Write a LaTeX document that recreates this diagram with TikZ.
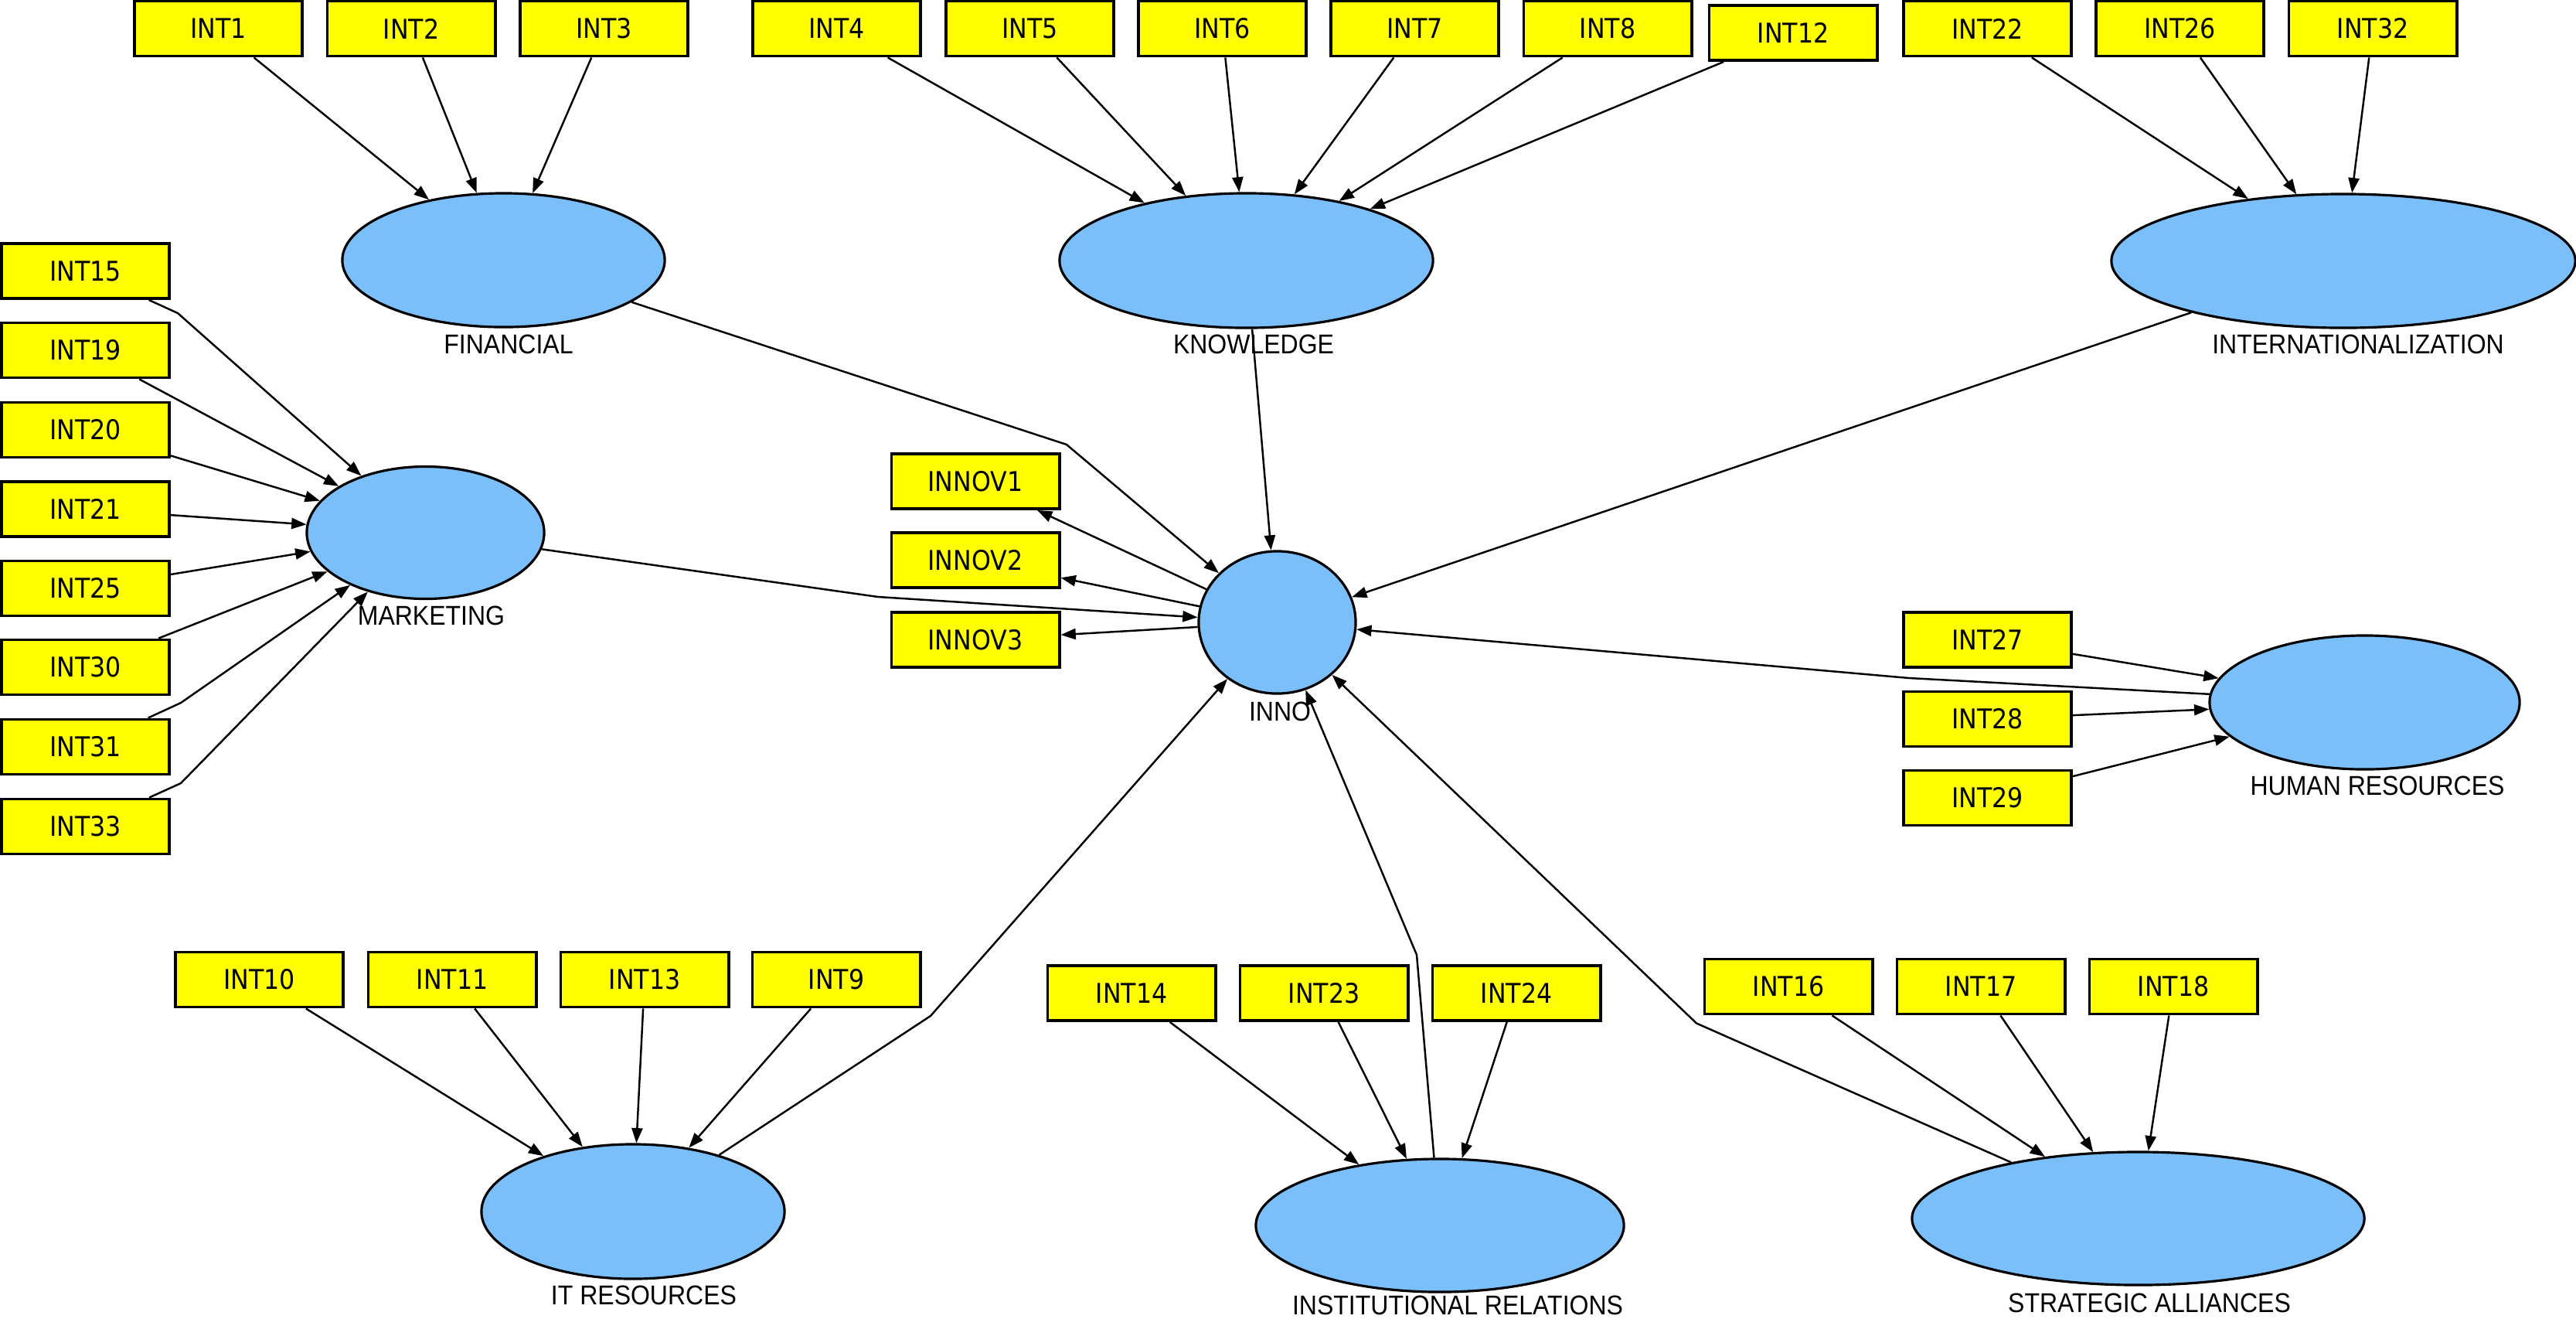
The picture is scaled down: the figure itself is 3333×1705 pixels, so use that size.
\documentclass[tikz,border=0pt]{standalone}
\usepackage{fontspec}
\newfontfamily\boxfont[FakeStretch=0.9]{DejaVu Sans}
\newfontfamily\labfont[FakeStretch=0.91]{Liberation Sans}
\usetikzlibrary{arrows.meta,shapes.geometric}
\definecolor{indyellow}{RGB}{255,255,0}
\definecolor{latblue}{RGB}{122,190,250}
\begin{document}
\begin{tikzpicture}[x=0.01cm,y=-0.01cm,
  ind/.style={draw=black,line width=1.1pt,fill=indyellow,minimum width=2.17cm,minimum height=0.71cm,inner sep=0pt,font=\boxfont\fontsize{10}{12}\selectfont},
  lat/.style={ellipse,draw=black,line width=0.9pt,fill=latblue,inner sep=0pt},
  lab/.style={font=\labfont\fontsize{10}{12}\selectfont,anchor=base,inner sep=0pt},
  arr/.style={line width=0.7pt,-{Triangle[length=5.5pt,width=4pt]}}]
\useasboundingbox[fill=white] (0,0) rectangle (3333,1705);

% latent variables
\node[lat,minimum width=4.17cm,minimum height=1.73cm] (FIN) at (651.5,336.5) {};
\node[lat,minimum width=4.83cm,minimum height=1.74cm] (KNOW) at (1612.5,337) {};
\node[lat,minimum width=6.00cm,minimum height=1.73cm] (INTL) at (3032,337.5) {};
\node[lat,minimum width=3.07cm,minimum height=1.71cm] (MKT) at (550.5,689) {};
\node[lat,minimum width=2.03cm,minimum height=1.84cm] (INNO) at (1652.5,805) {};
\node[lat,minimum width=4.01cm,minimum height=1.73cm] (HR) at (3059.5,908.5) {};
\node[lat,minimum width=3.92cm,minimum height=1.74cm] (IT) at (819,1567) {};
\node[lat,minimum width=4.76cm,minimum height=1.72cm] (INST) at (1863,1585) {};
\node[lat,minimum width=5.85cm,minimum height=1.72cm] (STRAT) at (2766.5,1576) {};

% labels
\node[lab] (lFIN) at (658,457) {FINANCIAL};
\node[lab] (lKNOW) at (1622,457) {KNOWLEDGE};
\node[lab] (lINTL) at (3051,457) {INTERNATIONALIZATION};
\node[lab] (lMKT) at (558,808) {MARKETING};
\node[lab] (lINNO) at (1656,932) {INNO};
\node[lab] (lHR) at (3076,1028) {HUMAN RESOURCES};
\node[lab] (lIT) at (833,1687) {IT RESOURCES};
\node[lab] (lINST) at (1886,1700) {INSTITUTIONAL RELATIONS};
\node[lab] (lSTRAT) at (2781,1697) {STRATEGIC ALLIANCES};

% top indicators
\node[ind] (INT1) at (282.5,37) {INT1};
\node[ind] (INT2) at (532,37) {INT2};
\node[ind] (INT3) at (781.5,37) {INT3};
\node[ind] (INT4) at (1082.5,37) {INT4};
\node[ind] (INT5) at (1332.5,37) {INT5};
\node[ind] (INT6) at (1581.5,37) {INT6};
\node[ind] (INT7) at (1830.5,37) {INT7};
\node[ind] (INT8) at (2080,37) {INT8};
\node[ind] (INT12) at (2320,42.5) {INT12};
\node[ind] (INT22) at (2571.5,37) {INT22};
\node[ind] (INT26) at (2820.5,37) {INT26};
\node[ind] (INT32) at (3070,37) {INT32};

% left indicators
\node[ind] (INT15) at (110.5,350.5) {INT15};
\node[ind] (INT19) at (110.5,453) {INT19};
\node[ind] (INT20) at (110.5,556) {INT20};
\node[ind] (INT21) at (110.5,658.5) {INT21};
\node[ind] (INT25) at (110.5,761) {INT25};
\node[ind] (INT30) at (110.5,863) {INT30};
\node[ind] (INT31) at (110.5,966) {INT31};
\node[ind] (INT33) at (110.5,1069) {INT33};

% INNO indicators
\node[ind] (INNOV1) at (1262,622.5) {INNOV1};
\node[ind] (INNOV2) at (1262,724.5) {INNOV2};
\node[ind] (INNOV3) at (1262,827.5) {INNOV3};

% HR indicators
\node[ind] (INT27) at (2571.5,827.5) {INT27};
\node[ind] (INT28) at (2571.5,930) {INT28};
\node[ind] (INT29) at (2571.5,1032) {INT29};

% bottom indicators
\node[ind] (INT10) at (335.5,1267) {INT10};
\node[ind] (INT11) at (585,1267) {INT11};
\node[ind] (INT13) at (834,1267) {INT13};
\node[ind] (INT9) at (1082,1267) {INT9};
\node[ind] (INT14) at (1464,1284.5) {INT14};
\node[ind] (INT23) at (1713,1284.5) {INT23};
\node[ind] (INT24) at (1962,1284.5) {INT24};
\node[ind] (INT16) at (2314,1276) {INT16};
\node[ind] (INT17) at (2563,1276) {INT17};
\node[ind] (INT18) at (2812,1276) {INT18};

% bend points
\coordinate (b15) at (230,405);
\coordinate (b31) at (234,909);
\coordinate (b33) at (234,1013);
\coordinate (bFIN) at (1380,575);
\coordinate (bMKT) at (1136,772);
\coordinate (bHR) at (2470,877);
\coordinate (bIT) at (1204,1314);
\coordinate (bINST) at (1833,1235);
\coordinate (bSTRAT) at (2195,1323.5);

% measurement arrows
\foreach \i in {INT1,INT2,INT3} \draw[arr] (\i) -- (FIN);
\foreach \i in {INT4,INT5,INT6,INT7,INT8,INT12} \draw[arr] (\i) -- (KNOW);
\foreach \i in {INT22,INT26,INT32} \draw[arr] (\i) -- (INTL);
\foreach \i in {INT19,INT20,INT21,INT25,INT30} \draw[arr] (\i) -- (MKT);
\draw[arr] (INT15) -- (b15) -- (MKT);
\draw[arr] (INT31) -- (b31) -- (MKT);
\draw[arr] (INT33) -- (b33) -- (MKT);
\foreach \i in {INT27,INT28,INT29} \draw[arr] (\i) -- (HR);
\foreach \i in {INT10,INT11,INT13,INT9} \draw[arr] (\i) -- (IT);
\foreach \i in {INT14,INT23,INT24} \draw[arr] (\i) -- (INST);
\foreach \i in {INT16,INT17,INT18} \draw[arr] (\i) -- (STRAT);
\foreach \i in {INNOV1,INNOV2,INNOV3} \draw[arr] (INNO) -- (\i);

% structural arrows
\draw[arr] (FIN) -- (bFIN) -- (INNO);
\draw[arr] (KNOW) -- (INNO);
\draw[arr] (INTL) -- (INNO);
\draw[arr] (MKT) -- (bMKT) -- (INNO);
\draw[arr] (HR) -- (bHR) -- (INNO);
\draw[arr] (IT) -- (bIT) -- (INNO);
\draw[arr] (INST) -- (bINST) -- (INNO);
\draw[arr] (STRAT) -- (bSTRAT) -- (INNO);
\end{tikzpicture}
\end{document}
